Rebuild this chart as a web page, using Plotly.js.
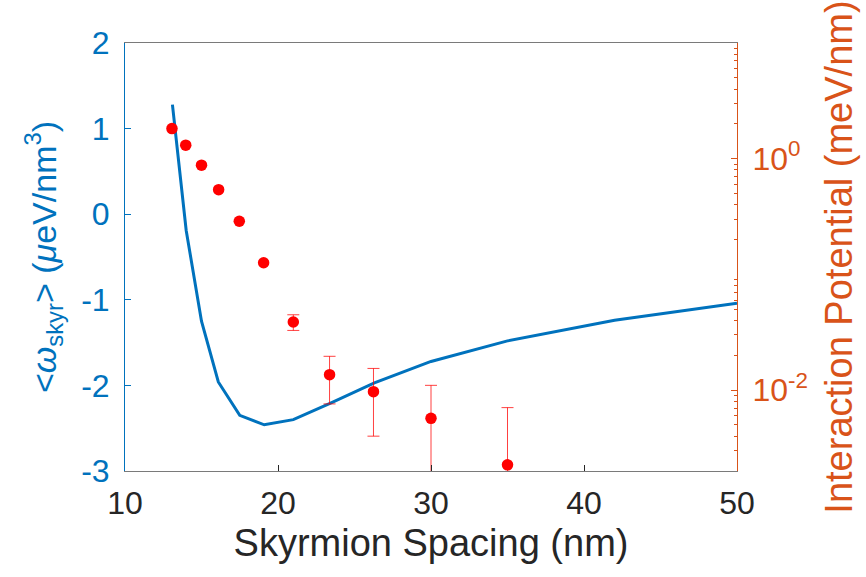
<!DOCTYPE html>
<html>
<head>
<meta charset="utf-8">
<script src="https://cdn.plot.ly/plotly-3.0.1.min.js"></script>
<style>html,body{margin:0;padding:0;background:#fff;}#chart{width:866px;height:577px;}</style>
</head>
<body>
<div id="chart"></div>
<script>
// Blue curve: mean skyrmion energy density (left axis)
var spacingLine = [13.1, 14.0, 15.0, 16.1, 17.5, 19.1, 21.0, 23.4, 26.3, 30.0, 35.0, 42.0, 50.0];
var omegaSkyr   = [1.28, -0.19, -1.25, -1.96, -2.35, -2.46, -2.40, -2.21, -1.97, -1.72, -1.48, -1.24, -1.04];

// Red points: interaction potential (right axis, log)
var spacingPts = [13.07, 13.97, 15.0, 16.12, 17.47, 19.06, 21.0, 23.37, 26.24, 30.0, 35.0];
var potential  = [1.82, 1.31, 0.88, 0.54, 0.288, 0.126, 0.0388, 0.0136, 0.0097, 0.0057, 0.00226];
var potentialErr = [NaN, NaN, NaN, NaN, NaN, NaN, 0.006, 0.006, 0.0057, 0.0053, 0.0048];

// Tick labels
var leftTickVals = [-3, -2, -1, 0, 1, 2];
var leftTickText = ['-3', '-2', '-1', '0', '1', '2'];
var xTickVals = [10, 20, 30, 40, 50];
var rightTickVals = [0.01, 1];
var rightTickText = ['10<sup>-2</sup>', '10<sup>0</sup>'];

var blue = '#0072BD', orange = '#D95319', dark = '#262626';
var font = 'Liberation Sans, Arial, Helvetica, sans-serif';

var minorVals = [];
for (var d = -3; d <= 0; d++) {
  for (var k = 2; k <= 9; k++) minorVals.push(k * Math.pow(10, d));
}

var traces = [
  {
    x: spacingLine, y: omegaSkyr, type: 'scatter', mode: 'lines',
    line: {color: blue, width: 3}, yaxis: 'y'
  },
  {
    x: spacingPts, y: potential, type: 'scatter', mode: 'markers',
    marker: {color: '#FF0000', size: 11.5},
    error_y: {type: 'data', array: potentialErr, symmetric: true, color: 'rgba(255,0,0,0.75)', thickness: 1, width: 6},
    yaxis: 'y2'
  }
];

var layout = {
  width: 866, height: 577,
  margin: {l: 125, r: 129, t: 43, b: 106},
  paper_bgcolor: '#fff', plot_bgcolor: '#fff',
  showlegend: false,
  font: {family: font, color: dark},
  xaxis: {
    range: [10, 50], tickvals: xTickVals, ticks: 'inside', ticklen: 6, tickcolor: dark,
    showline: true, linecolor: '#7a7a7a', linewidth: 1, mirror: true,
    showgrid: false, zeroline: false, ticklabelstandoff: 4,
    tickfont: {size: 32, color: dark, family: font},
    title: {text: 'Skyrmion Spacing (nm)', font: {size: 38, color: dark, family: font}, standoff: 8}
  },
  yaxis: {
    range: [-3, 2], tickvals: leftTickVals, ticktext: leftTickText, ticks: 'inside', ticklen: 6, tickcolor: blue,
    showline: true, linecolor: blue, linewidth: 1,
    showgrid: false, zeroline: false, ticklabelstandoff: 8,
    tickfont: {size: 32, color: blue, family: font},
    title: {text: '&lt;<i>ω</i><sub>skyr</sub>&gt; (<i>μ</i>eV/nm<sup>3</sup>)', font: {size: 34, color: blue, family: font}, standoff: 14}
  },
  yaxis2: {
    type: 'log', range: [Math.log10(0.002), 1], overlaying: 'y', side: 'right',
    tickvals: rightTickVals, ticktext: rightTickText, ticks: 'inside', ticklen: 6, tickcolor: orange,
    minor: {tickvals: minorVals, ticks: 'inside', ticklen: 3, tickcolor: orange},
    showline: true, linecolor: orange, linewidth: 1,
    showgrid: false, zeroline: false, ticklabelstandoff: 8,
    tickfont: {size: 32, color: orange, family: font},
    title: {text: 'Interaction Potential (meV/nm)', font: {size: 38, color: orange, family: font}, standoff: 18}
  }
};

Plotly.newPlot('chart', traces, layout, {displayModeBar: false, staticPlot: true});
</script>
</body>
</html>
